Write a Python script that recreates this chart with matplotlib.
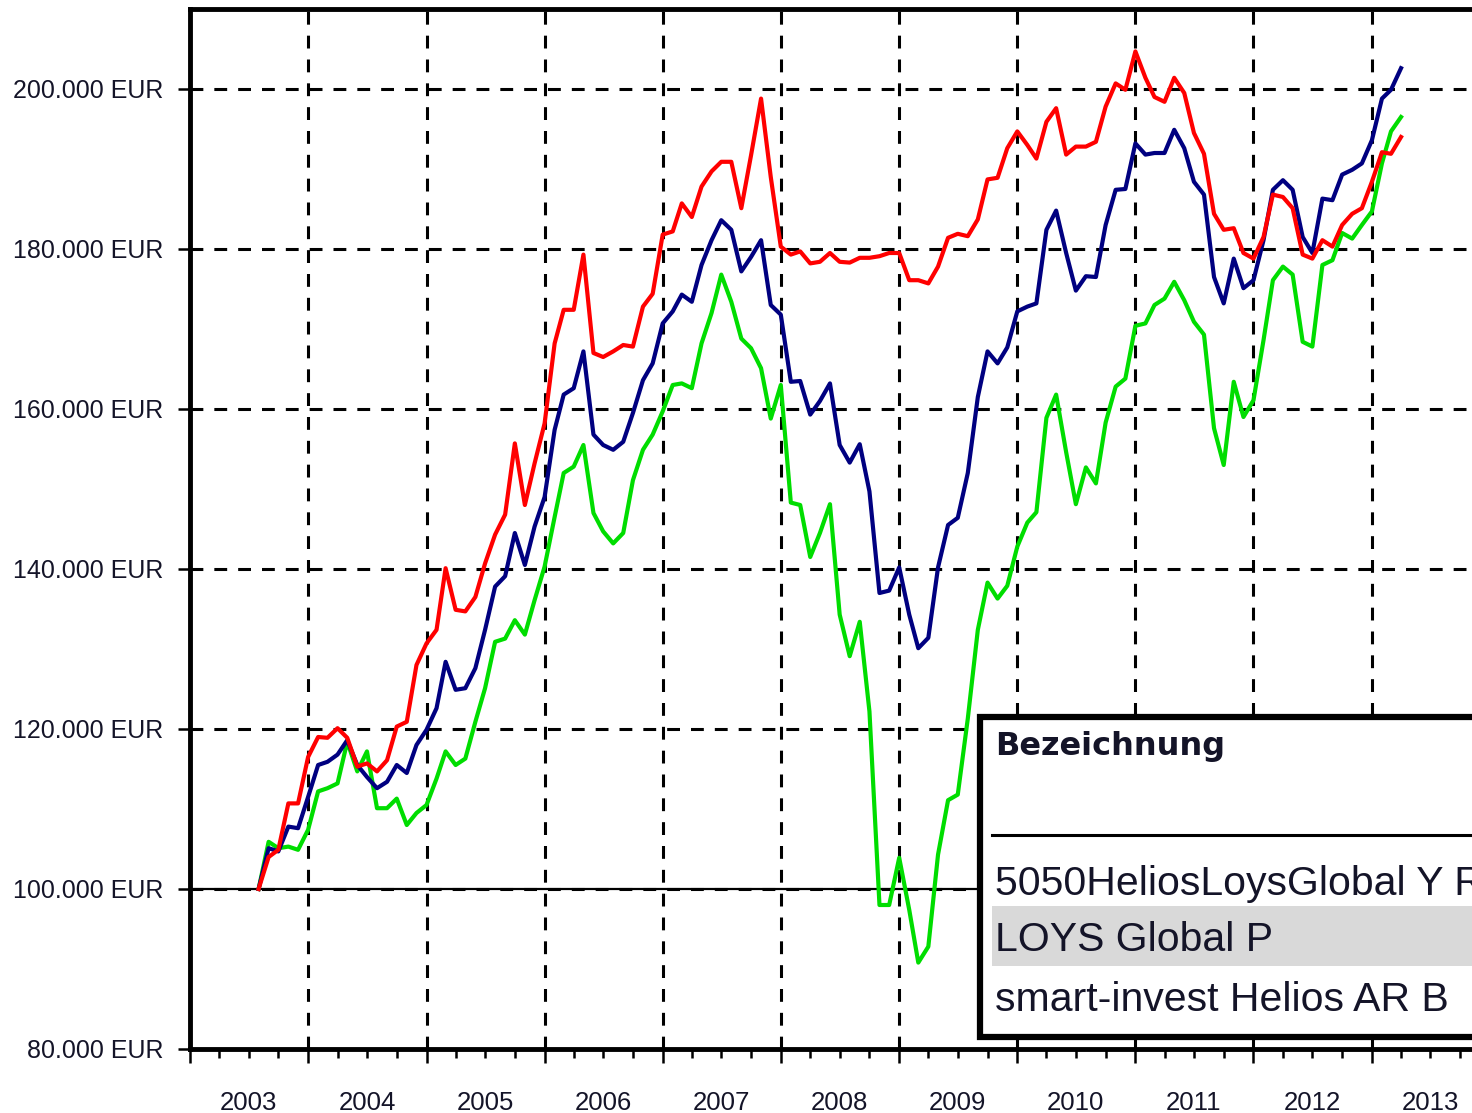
import numpy as np
import pandas as pd
import matplotlib
matplotlib.use("Agg")
import matplotlib.pyplot as plt
import matplotlib.dates as mdates
from matplotlib.ticker import FuncFormatter, MultipleLocator
from matplotlib.patches import Rectangle

plt.rcParams['font.family'] = ['Liberation Sans', 'DejaVu Sans']

# monthly values, in thousand EUR (start = 100.000 EUR)
dates = pd.date_range('2003-08-01', periods=117, freq='MS')

loys_global = [  # red
    100.0, 104.0, 104.9, 110.7, 110.7, 116.5, 119.0, 118.9, 120.1, 118.9,
    115.3, 115.7, 114.7, 116.1, 120.3, 120.9, 128.0, 130.7, 132.4, 140.1,
    134.9, 134.7, 136.5, 140.7, 144.3, 146.8, 155.7, 148.0, 153.2, 158.2,
    168.2, 172.4, 172.4, 179.3, 167.0, 166.5, 167.2, 168.0, 167.8, 172.8,
    174.4, 181.8, 182.2, 185.7, 184.0, 187.8, 189.7, 190.9, 190.9, 185.1,
    191.7, 198.8, 189.0, 180.3, 179.3, 179.7, 178.2, 178.4, 179.5, 178.4,
    178.3, 178.9, 178.9, 179.1, 179.5, 179.5, 176.1, 176.1, 175.7, 177.8,
    181.4, 181.9, 181.6, 183.7, 188.7, 188.9, 192.6, 194.7, 193.0, 191.3,
    195.9, 197.6, 191.8, 192.8, 192.8, 193.4, 197.8, 200.7, 199.9, 204.7,
    201.4, 199.0, 198.4, 201.4, 199.5, 194.5, 191.9, 184.4, 182.4, 182.6,
    179.5, 178.8, 181.5, 186.8, 186.5, 185.1, 179.3, 178.8, 181.1, 180.3,
    183.0, 184.4, 185.1, 188.4, 192.1, 191.9, 194.0]

mix_5050 = [  # navy
    100.0, 105.1, 104.7, 107.8, 107.6, 111.5, 115.5, 115.9, 116.8, 118.6,
    115.5, 114.0, 112.6, 113.4, 115.5, 114.5, 118.0, 119.9, 122.6, 128.4,
    124.9, 125.1, 127.6, 132.4, 137.8, 139.1, 144.5, 140.5, 145.3, 149.0,
    157.4, 161.8, 162.6, 167.2, 156.8, 155.5, 154.9, 155.9, 159.5, 163.6,
    165.7, 170.7, 172.2, 174.3, 173.4, 178.0, 181.1, 183.6, 182.4, 177.2,
    179.0, 181.1, 173.0, 171.8, 163.4, 163.5, 159.3, 161.0, 163.2, 155.5,
    153.3, 155.6, 149.7, 137.0, 137.3, 140.2, 134.3, 130.1, 131.4, 140.2,
    145.5, 146.4, 152.0, 161.5, 167.2, 165.7, 167.7, 172.2, 172.8, 173.2,
    182.4, 184.8, 179.5, 174.8, 176.6, 176.5, 183.0, 187.4, 187.5, 193.2,
    191.8, 192.0, 192.0, 194.9, 192.6, 188.4, 186.8, 176.5, 173.2, 178.8,
    175.1, 176.1, 181.1, 187.4, 188.6, 187.4, 181.5, 179.5, 186.3, 186.1,
    189.3, 189.9, 190.7, 193.6, 198.8, 199.9, 202.6]

helios_ar = [  # green
    100.0, 105.9, 105.1, 105.3, 104.9, 107.4, 112.2, 112.6, 113.2, 118.4,
    114.7, 117.2, 110.1, 110.1, 111.3, 108.0, 109.5, 110.5, 113.8, 117.2,
    115.5, 116.3, 120.9, 125.1, 130.9, 131.3, 133.6, 131.8, 136.1, 140.3,
    146.5, 152.0, 152.8, 155.5, 147.0, 144.7, 143.2, 144.5, 151.1, 154.9,
    156.8, 159.7, 163.0, 163.2, 162.6, 168.2, 172.0, 176.8, 173.4, 168.8,
    167.6, 165.1, 158.8, 163.0, 148.3, 148.0, 141.5, 144.5, 148.1, 134.3,
    129.1, 133.4, 122.2, 98.0, 98.0, 103.9, 97.4, 90.8, 92.8, 104.3,
    111.1, 111.8, 121.3, 132.4, 138.3, 136.3, 137.9, 142.8, 145.8, 147.1,
    158.9, 161.8, 154.6, 148.1, 152.7, 150.7, 158.3, 162.8, 163.8, 170.4,
    170.7, 173.0, 173.8, 175.9, 173.6, 170.9, 169.3, 157.6, 153.0, 163.4,
    159.0, 161.1, 168.6, 176.1, 177.8, 176.8, 168.4, 167.8, 178.0, 178.6,
    182.0, 181.3, 183.0, 184.7, 190.7, 194.7, 196.5]

legend_title = "Bezeichnung"
legend_names = ["5050HeliosLoysGlobal Y R", "LOYS Global P", "smart-invest Helios AR B"]

txt_col = '#141428'

fig = plt.figure(figsize=(14.72, 11.13), dpi=100)
ax = fig.add_axes([190 / 1472, 64 / 1113, 1300 / 1472, 1040 / 1113])

eur = lambda s: np.array(s) * 1000
ax.plot(dates, eur(helios_ar), color='#00dd00', lw=3.0, zorder=3)
ax.plot(dates, eur(mix_5050), color='#000080', lw=3.0, zorder=4)
ax.plot(dates, eur(loys_global), color='#ff0000', lw=3.0, zorder=5)

ax.set_xlim(pd.Timestamp('2003-01-01'), pd.Timestamp('2014-01-01'))
ax.set_ylim(80000, 210000)

# grid
ax.yaxis.set_major_locator(MultipleLocator(20000))
ax.xaxis.set_major_locator(mdates.YearLocator())
ax.xaxis.set_minor_locator(mdates.MonthLocator(bymonth=[4, 7, 10]))
ax.grid(True, which='major', color='black', linestyle=(0, (4.2, 3.6)), lw=2.2, zorder=1)
ax.axhline(100000, color='black', lw=1.6, zorder=2)

ax.yaxis.set_major_formatter(FuncFormatter(lambda v, p: f"{v:,.0f}".replace(",", ".") + " EUR"))
ax.xaxis.set_major_formatter(FuncFormatter(lambda v, p: ""))
ax.xaxis.set_minor_formatter(FuncFormatter(
    lambda v, p: str(mdates.num2date(v).year) if mdates.num2date(v).month == 7 else ""))

ax.tick_params(axis='y', which='major', direction='out', length=9, width=1.8,
               pad=10, labelsize=18, labelcolor=txt_col)
ax.tick_params(axis='x', which='major', direction='out', length=10, width=1.8)
ax.tick_params(axis='x', which='minor', direction='out', length=6.5, width=1.8,
               pad=24, labelsize=18.5, labelcolor=txt_col)

for s in ['left', 'bottom', 'top']:
    ax.spines[s].set_linewidth(3.5)
ax.spines['right'].set_visible(False)

# legend table (cut off at the right edge)
def fy(py):
    return 1 - py / 1113

fig.add_artist(Rectangle((980 / 1472, fy(1037)), 600 / 1472, (1037 - 717) / 1113,
                         transform=fig.transFigure, facecolor='white',
                         edgecolor='black', lw=4.5, zorder=10))
fig.add_artist(Rectangle((992 / 1472, fy(966)), 600 / 1472, 60 / 1113,
                         transform=fig.transFigure, facecolor='#d9d9d9',
                         edgecolor='none', zorder=11))
fig.add_artist(plt.Line2D([992 / 1472, 1.2], [fy(835), fy(835)],
                          transform=fig.transFigure, color='black', lw=2.2, zorder=11))
fig.text(995 / 1472, fy(746), legend_title, fontsize=23, fontweight='bold',
         family='DejaVu Sans', color=txt_col, va='center', ha='left', zorder=12)
for name, py in zip(legend_names, [884, 940, 1000]):
    fig.text(995 / 1472, fy(py), name, fontsize=29.5, color=txt_col,
             va='center', ha='left', zorder=12)

fig.savefig('out.png', dpi=100, facecolor='white')
